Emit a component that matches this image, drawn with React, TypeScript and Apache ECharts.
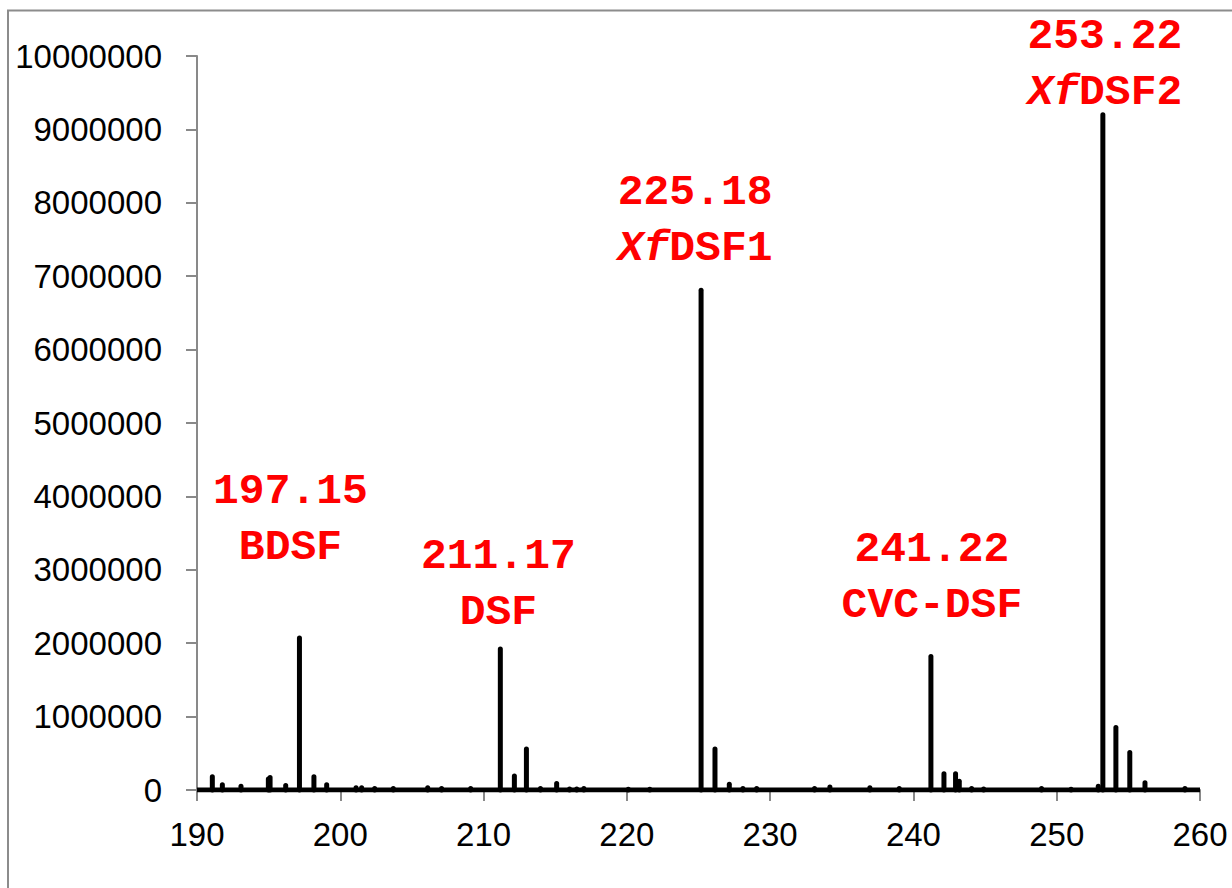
import React, { useEffect, useRef } from "react";
import * as echarts from "echarts";

// m/z positions of the spectrum peaks and their intensities
const peakMz: number[] = [
  191.07, 191.77, 193.07, 194.98, 195.1, 196.19, 197.15, 198.16, 199.05,
  201.1, 201.49, 202.4, 203.7, 206.1, 207.07, 209.1, 211.17, 212.15, 212.99,
  213.97, 215.1, 216.0, 216.5, 217.0, 220.1, 221.6, 225.18, 226.15, 227.15,
  228.1, 229.06, 233.1, 234.17, 236.96, 239.01, 241.22, 242.13, 242.94,
  243.2, 244.06, 244.9, 248.94, 251.0, 252.9, 253.22, 254.13, 255.1, 256.16,
  258.95,
];
const peakIntensity: number[] = [
  180000, 70000, 50000, 150000, 170000, 60000, 2070000, 180000, 70000,
  30000, 30000, 20000, 20000, 30000, 20000, 20000, 1920000, 190000, 560000,
  20000, 90000, 15000, 15000, 20000, 10000, 10000, 6810000, 560000, 80000,
  20000, 20000, 20000, 40000, 30000, 20000, 1820000, 220000, 220000,
  120000, 20000, 15000, 20000, 10000, 50000, 9200000, 850000, 510000, 100000,
  20000,
];

// annotated compounds
const labelMz: number[] = [197.15, 211.17, 225.18, 241.22, 253.22];
const labelName: string[] = ["{n|BDSF}", "{n|DSF}", "{i|Xf}{n|DSF1}", "{n|CVC-DSF}", "{i|Xf}{n|DSF2}"];
const labelDist: number[] = [63, 9, 14, 23, -6];
const labelShift: number[] = [-9, -2, -6, 1, 2];

const xTicks = { min: 190, max: 260, interval: 10 };
const yTicks = { min: 0, max: 10000000, interval: 1000000 };

const AXIS_GREY = "#898989";
const TRACE_WIDTH = 5;
const monoStyle = {
  fontFamily: "Liberation Mono",
  fontWeight: "bold" as const,
  fontSize: 43,
  color: "#ff0000",
  lineHeight: 56,
};

export default function App() {
  const ref = useRef<HTMLDivElement>(null);

  useEffect(() => {
    if (!ref.current) return;
    const chart = echarts.init(ref.current, undefined, { renderer: "svg" });

    const peakData = peakMz.map((mz, i) => [mz, peakIntensity[i]]);

    // invisible bars that only carry the compound annotations
    const labelData = labelMz.map((mz, li) => ({
      value: [mz, peakIntensity[peakMz.indexOf(mz)]],
      label: {
        show: true,
        position: "top",
        distance: labelDist[li],
        offset: [labelShift[li], 0],
        formatter: "{n|" + mz.toFixed(2) + "}\n" + labelName[li],
        rich: {
          n: { ...monoStyle },
          i: { ...monoStyle, fontStyle: "italic" },
        },
      },
    }));

    chart.setOption({
      animation: false,
      backgroundColor: "#ffffff",
      grid: { left: 197, top: 56, right: 32, bottom: 98, containLabel: false },
      graphic: [
        {
          type: "rect",
          shape: { x: 8, y: 10.5, width: 1260, height: 900 },
          style: { fill: "none", stroke: "#8c8c8c", lineWidth: 2 },
          silent: true,
          z: -1,
        },
      ],
      xAxis: {
        type: "value",
        min: xTicks.min,
        max: xTicks.max,
        interval: xTicks.interval,
        axisLine: { show: true, onZero: false, lineStyle: { color: AXIS_GREY, width: 2 } },
        axisTick: { show: true, inside: false, length: 11, lineStyle: { color: AXIS_GREY, width: 2 } },
        splitLine: { show: false },
        axisLabel: {
          margin: 28,
          color: "#000000",
          fontFamily: "Liberation Sans",
          fontSize: 33,
        },
      },
      yAxis: {
        type: "value",
        min: yTicks.min,
        max: yTicks.max,
        interval: yTicks.interval,
        axisLine: { show: true, lineStyle: { color: AXIS_GREY, width: 2 } },
        axisTick: { show: true, inside: false, length: 11, lineStyle: { color: AXIS_GREY, width: 2 } },
        splitLine: { show: false },
        axisLabel: {
          margin: 35,
          color: "#000000",
          fontFamily: "Liberation Sans",
          fontSize: 33,
          formatter: (v: number) => String(v),
        },
      },
      series: [
        {
          type: "line",
          data: [
            [xTicks.min, 0],
            [xTicks.max, 0],
          ],
          symbol: "none",
          lineStyle: { color: "#000000", width: TRACE_WIDTH },
          silent: true,
          z: 3,
        },
        {
          type: "custom",
          data: peakData,
          silent: true,
          z: 4,
          renderItem: (_params: any, api: any) => {
            const base = api.coord([api.value(0), 0]);
            const top = api.coord([api.value(0), api.value(1)]);
            return {
              type: "line",
              shape: { x1: base[0], y1: base[1], x2: top[0], y2: top[1] },
              style: { stroke: "#000000", lineWidth: TRACE_WIDTH, lineCap: "round" },
            };
          },
        },
        {
          type: "bar",
          data: labelData,
          barWidth: 5,
          itemStyle: { color: "rgba(0,0,0,0)" },
          silent: true,
          z: 5,
        },
      ],
    });

    return () => chart.dispose();
  }, []);

  return (
    <div
      ref={ref}
      style={{ position: "absolute", left: 0, top: 0, width: 1232, height: 888 }}
    />
  );
}
